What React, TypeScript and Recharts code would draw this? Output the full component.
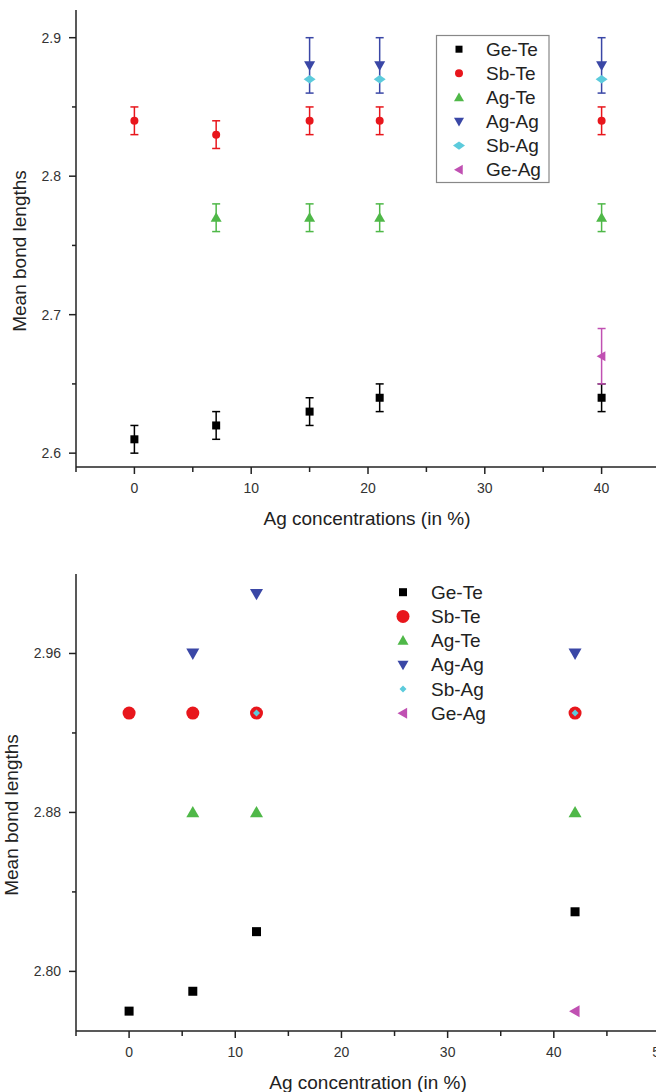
import React from "react";
import { ScatterChart, Scatter, XAxis, YAxis, ErrorBar } from "recharts";

// ---- top panel (with error bars) ----
const topGeTeX = [0, 7, 15, 21, 40];
const topGeTeY = [2.61, 2.62, 2.63, 2.64, 2.64];
const topSbTeX = [0, 7, 15, 21, 40];
const topSbTeY = [2.84, 2.83, 2.84, 2.84, 2.84];
const topAgTeX = [7, 15, 21, 40];
const topAgTeY = [2.77, 2.77, 2.77, 2.77];
const topAgAgX = [15, 21, 40];
const topAgAgY = [2.88, 2.88, 2.88];
const topSbAgX = [15, 21, 40];
const topSbAgY = [2.87, 2.87, 2.87];
const topGeAgX = [40];
const topGeAgY = [2.67];
const topErr = { geTe: 0.01, sbTe: 0.01, agTe: 0.01, agAg: 0.02, geAg: 0.02 };

const topXTicks = [-5, 0, 5, 10, 15, 20, 25, 30, 35, 40, 45];
const topXLabels = [0, 10, 20, 30, 40];
const topYTicks = [2.6, 2.65, 2.7, 2.75, 2.8, 2.85, 2.9];
const topYLabels = [2.6, 2.7, 2.8, 2.9];

// ---- bottom panel ----
const botGeTeX = [0, 6, 12, 42];
const botGeTeY = [2.78, 2.79, 2.82, 2.83];
const botSbTeX = [0, 6, 12, 42];
const botSbTeY = [2.93, 2.93, 2.93, 2.93];
const botAgTeX = [6, 12, 42];
const botAgTeY = [2.88, 2.88, 2.88];
const botAgAgX = [6, 12, 42];
const botAgAgY = [2.96, 2.99, 2.96];
const botSbAgX = [12, 42];
const botSbAgY = [2.93, 2.93];
const botGeAgX = [42];
const botGeAgY = [2.78];

const botXTicks = [-5, 0, 5, 10, 15, 20, 25, 30, 35, 40, 45, 50];
const botXLabels = [0, 10, 20, 30, 40, 50];
const botYTicks = [2.8, 2.84, 2.88, 2.92, 2.96];
const botYLabels = [2.8, 2.88, 2.96];

const seriesNames = ["Ge-Te", "Sb-Te", "Ag-Te", "Ag-Ag", "Sb-Ag", "Ge-Ag"];

const COLORS = {
  geTe: "#000000",
  sbTe: "#e8161c",
  agTe: "#4fb848",
  agAg: "#3a47a6",
  sbAg: "#5ccbdc",
  geAg: "#c050b2",
};

const FONT = "'Liberation Sans', Arial, Helvetica, sans-serif";

type Kind = "square" | "circle" | "up" | "down" | "diamond" | "left";

function Marker({ kind, cx, cy, size, color, squash = 0.65 }: { kind: Kind; cx: number; cy: number; size: number; color: string; squash?: number }) {
  const h = size / 2;
  if (cx == null || cy == null) return null;
  switch (kind) {
    case "square":
      return <rect x={cx - h} y={cy - h} width={size} height={size} fill={color} />;
    case "circle":
      return <circle cx={cx} cy={cy} r={h} fill={color} />;
    case "up":
      return <polygon points={`${cx},${cy - h} ${cx + h},${cy + h * 0.75} ${cx - h},${cy + h * 0.75}`} fill={color} />;
    case "down":
      return <polygon points={`${cx - h},${cy - h * 0.75} ${cx + h},${cy - h * 0.75} ${cx},${cy + h}`} fill={color} />;
    case "left":
      return <polygon points={`${cx - h},${cy} ${cx + h * 0.75},${cy - h} ${cx + h * 0.75},${cy + h}`} fill={color} />;
    case "diamond":
      return <polygon points={`${cx},${cy - h * squash} ${cx + h},${cy} ${cx},${cy + h * squash} ${cx - h},${cy}`} fill={color} />;
  }
  return null;
}

const pts = (xs: number[], ys: number[], err?: number) => xs.map((x, i) => ({ x, y: ys[i], err }));

const isIn = (list: number[], v: number) => list.some((m) => Math.abs(m - v) < 1e-6);

function XTick(props: any) {
  const { x, y, payload, labels } = props;
  const major = isIn(labels, payload.value);
  return (
    <g>
      <line x1={x} y1={y} x2={x} y2={y + (major ? 7 : 5)} stroke="#222" strokeWidth={1.5} />
      {major && (
        <text x={x} y={y + 21} textAnchor="middle" dominantBaseline="central" fontSize={14} fill="#333" fontFamily={FONT}>
          {payload.value}
        </text>
      )}
    </g>
  );
}

function YTick(props: any) {
  const { x, y, payload, labels, digits } = props;
  const major = isIn(labels, payload.value);
  return (
    <g>
      <line x1={x - (major ? 7 : 4)} y1={y} x2={x} y2={y} stroke="#222" strokeWidth={1.5} />
      {major && (
        <text x={x - 15} y={y} textAnchor="end" dominantBaseline="central" fontSize={14} fill="#333" fontFamily={FONT}>
          {payload.value.toFixed(digits)}
        </text>
      )}
    </g>
  );
}

function Legend({ x0, y0, textX, gap, sizes, kinds, colors, squash }: any) {
  return (
    <g>
      {seriesNames.map((name, i) => (
        <g key={name}>
          <Marker kind={kinds[i]} cx={x0} cy={y0 + gap * i} size={sizes[i]} color={colors[i]} squash={squash} />
          <text x={textX} y={y0 + gap * i} dominantBaseline="central" fontSize={19} fill="#222" fontFamily={FONT}>
            {name}
          </text>
        </g>
      ))}
    </g>
  );
}

const kinds: Kind[] = ["square", "circle", "up", "down", "diamond", "left"];
const colorList = [COLORS.geTe, COLORS.sbTe, COLORS.agTe, COLORS.agAg, COLORS.sbAg, COLORS.geAg];

function Panel({
  top,
  height,
  marginTop,
  xDomain,
  yDomain,
  xTicks,
  xLabels,
  yTicks,
  yLabels,
  digits,
  series,
  sizes,
  squash,
}: any) {
  return (
    <div style={{ position: "absolute", left: 0, top, width: 700, height }}>
      <ScatterChart width={700} height={height} margin={{ top: marginTop, right: 40, bottom: 0, left: 0 }}>
        <XAxis
          xAxisId="top"
          orientation="top"
          type="number"
          dataKey="x"
          domain={xDomain}
          height={0}
          tick={false}
          tickLine={false}
          axisLine={{ stroke: "#555", strokeWidth: 1.2 }}
          allowDataOverflow
        />
        <XAxis
          type="number"
          dataKey="x"
          domain={xDomain}
          ticks={xTicks}
          interval={0}
          height={60}
          tickSize={0}
          tickMargin={0}
          tickLine={false}
          axisLine={{ stroke: "#222", strokeWidth: 1.5 }}
          tick={<XTick labels={xLabels} />}
          allowDataOverflow
        />
        <YAxis
          type="number"
          dataKey="y"
          domain={yDomain}
          ticks={yTicks}
          interval={0}
          width={76}
          tickSize={0}
          tickMargin={0}
          tickLine={false}
          axisLine={{ stroke: "#222", strokeWidth: 1.5 }}
          tick={<YTick labels={yLabels} digits={digits} />}
          allowDataOverflow
        />
        {series.map((s: any, i: number) => (
          <Scatter
            key={seriesNames[i]}
            name={seriesNames[i]}
            data={s}
            fill={colorList[i]}
            isAnimationActive={false}
            shape={(p: any) => (
              <Marker kind={kinds[i]} cx={p.cx} cy={p.cy} size={sizes[i]} color={colorList[i]} squash={squash} />
            )}
          >
            {s.length > 0 && s[0].err != null && (
              <ErrorBar dataKey="err" direction="y" width={4} stroke={colorList[i]} strokeWidth={1.5} />
            )}
          </Scatter>
        ))}
      </ScatterChart>
    </div>
  );
}

export default function App() {
  const topSeries = [
    pts(topGeTeX, topGeTeY, topErr.geTe),
    pts(topSbTeX, topSbTeY, topErr.sbTe),
    pts(topAgTeX, topAgTeY, topErr.agTe),
    pts(topAgAgX, topAgAgY, topErr.agAg),
    pts(topSbAgX, topSbAgY),
    pts(topGeAgX, topGeAgY, topErr.geAg),
  ];
  const botSeries = [
    pts(botGeTeX, botGeTeY),
    pts(botSbTeX, botSbTeY),
    pts(botAgTeX, botAgTeY),
    pts(botAgAgX, botAgAgY),
    pts(botSbAgX, botSbAgY),
    pts(botGeAgX, botGeAgY),
  ];
  return (
    <div style={{ position: "absolute", left: 0, top: 0, width: 656, height: 1092, overflow: "hidden", background: "#fff" }}>
      <Panel
        top={0}
        height={527}
        marginTop={10}
        xDomain={[-5, 45]}
        yDomain={[2.59, 2.92]}
        xTicks={topXTicks}
        xLabels={topXLabels}
        yTicks={topYTicks}
        yLabels={topYLabels}
        digits={1}
        series={topSeries}
        sizes={[8, 8, 11, 11, 12, 10]}
        squash={0.7}
      />
      <Panel
        top={560}
        height={531}
        marginTop={14}
        xDomain={[-5, 50]}
        yDomain={[2.77, 3.0]}
        xTicks={botXTicks}
        xLabels={botXLabels}
        yTicks={botYTicks}
        yLabels={botYLabels}
        digits={2}
        series={botSeries}
        sizes={[9, 13, 13, 13, 7, 12]}
        squash={1}
      />
      <svg width={656} height={1092} style={{ position: "absolute", left: 0, top: 0, pointerEvents: "none" }}>
        {/* top panel titles and legend */}
        <text x={367} y={518} textAnchor="middle" dominantBaseline="central" fontSize={19} fill="#222" fontFamily={FONT}>
          Ag concentrations (in %)
        </text>
        <text
          x={19}
          y={251}
          transform="rotate(-90 19 251)"
          textAnchor="middle"
          dominantBaseline="central"
          fontSize={19}
          fill="#222"
          fontFamily={FONT}
        >
          Mean bond lengths
        </text>
        <rect x={436.5} y={35.5} width={112.5} height={147} fill="#fff" stroke="#888" strokeWidth={1.2} />
        <Legend x0={459} y0={49.2} textX={486} gap={24.1} sizes={[7, 8, 10, 10, 12, 10]} kinds={kinds} colors={colorList} squash={0.7} />

        {/* bottom panel titles and legend */}
        <text x={368} y={1082.6} textAnchor="middle" dominantBaseline="central" fontSize={19} fill="#222" fontFamily={FONT}>
          Ag concentration (in %)
        </text>
        <text
          x={11.5}
          y={815}
          transform="rotate(-90 11.5 815)"
          textAnchor="middle"
          dominantBaseline="central"
          fontSize={19}
          fill="#222"
          fontFamily={FONT}
        >
          Mean bond lengths
        </text>
        <Legend x0={403} y0={592.2} textX={431} gap={24.2} sizes={[8, 13, 11, 11, 7, 11]} kinds={kinds} colors={colorList} squash={1} />
      </svg>
    </div>
  );
}
